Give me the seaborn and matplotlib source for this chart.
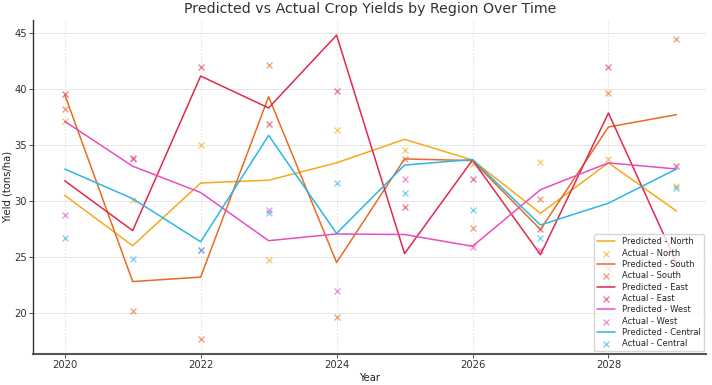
import matplotlib
matplotlib.use("Agg")
import matplotlib.pyplot as plt
import seaborn as sns
import pandas as pd

years = [2020, 2021, 2022, 2023, 2024, 2025, 2026, 2027, 2028, 2029]
regions = ["North", "South", "East", "West", "Central"]

pred_north = [30.5, 26.0, 31.6, 31.85, 33.4, 35.5, 33.65, 28.9, 33.4, 29.1]
act_north = [37.1, 30.1, 35.0, 24.7, 36.3, 34.55, 33.3, 33.45, 33.7, 31.3]
pred_south = [39.5, 22.8, 23.2, 39.3, 24.5, 33.75, 33.6, 27.45, 36.6, 37.7]
act_south = [38.25, 20.2, 17.65, 42.15, 19.65, 33.75, 27.55, 30.15, 39.6, 44.45]
pred_east = [31.8, 27.35, 41.15, 38.3, 44.8, 25.3, 33.65, 25.2, 37.85, 24.5]
act_east = [39.55, 33.8, 42.0, 36.9, 39.8, 29.45, 31.95, 27.5, 41.95, 33.1]
pred_west = [37.1, 33.1, 30.75, 26.45, 27.05, 27.0, 25.95, 31.0, 33.4, 32.85]
act_west = [28.75, 33.75, 25.6, 29.2, 22.0, 32.0, 25.9, 25.6, 24.0, 24.5]
pred_central = [32.85, 30.2, 26.35, 35.85, 27.1, 33.2, 33.7, 27.85, 29.8, 32.85]
act_central = [26.7, 24.8, 25.6, 28.95, 31.6, 30.75, 29.15, 26.65, 22.5, 31.15]

colors = ["#F7A81B", "#EB6A22", "#E2284C", "#E84EC4", "#2BB6E6"]

predicted = [pred_north, pred_south, pred_east, pred_west, pred_central]
actual = [act_north, act_south, act_east, act_west, act_central]

sns.set_theme(style="whitegrid")
plt.rcParams['font.family'] = ['DejaVu Sans']

fig = plt.figure(figsize=(7.12, 3.85), dpi=100)
ax = fig.add_axes([0.047, 0.081, 0.945, 0.867])

for reg, p, a, c in zip(regions, predicted, actual, colors):
    df = pd.DataFrame({"Year": years, "Pred": p, "Act": a})
    sns.lineplot(data=df, x="Year", y="Pred", ax=ax, color=c, linewidth=1.1,
                 label=f"Predicted - {reg}")
    sns.scatterplot(data=df, x="Year", y="Act", ax=ax, color=c, marker="x",
                    s=18, linewidth=1.0, alpha=0.6, label=f"Actual - {reg}")

ax.set_title("Predicted vs Actual Crop Yields by Region Over Time",
             fontsize=10.2, color="#333333", pad=5)
ax.set_xlabel("Year", fontsize=7.2, labelpad=2, color="#222222")
ax.set_ylabel("Yield (tons/ha)", fontsize=7.2, labelpad=1.5, color="#222222")
ax.set_xticks([2020, 2022, 2024, 2026, 2028])
ax.set_yticks([20, 25, 30, 35, 40, 45])
ax.set_xlim(2019.54, 2029.44)
ax.set_ylim(16.35, 46.15)
ax.tick_params(axis="both", labelsize=7.2, length=3, width=0.6, pad=1.5,
               colors="#333333", bottom=True, left=True)
ax.grid(True, color="#e2e2e2", linewidth=0.6, linestyle="-")
ax.grid(True, axis="x", color="#dddddd", linewidth=0.6, linestyle=(0, (2, 2)))
for s in ["top", "right"]:
    ax.spines[s].set_visible(False)
ax.spines["left"].set_color("#333333")
ax.spines["left"].set_linewidth(1.0)
ax.spines["bottom"].set_color("#555555")
ax.spines["bottom"].set_linewidth(1.5)

ax.legend(loc="lower right", fontsize=6, framealpha=0.8, labelspacing=0.28,
          handlelength=2.2, borderpad=0.35, borderaxespad=0.3)

fig.savefig("out.png", dpi=100)
